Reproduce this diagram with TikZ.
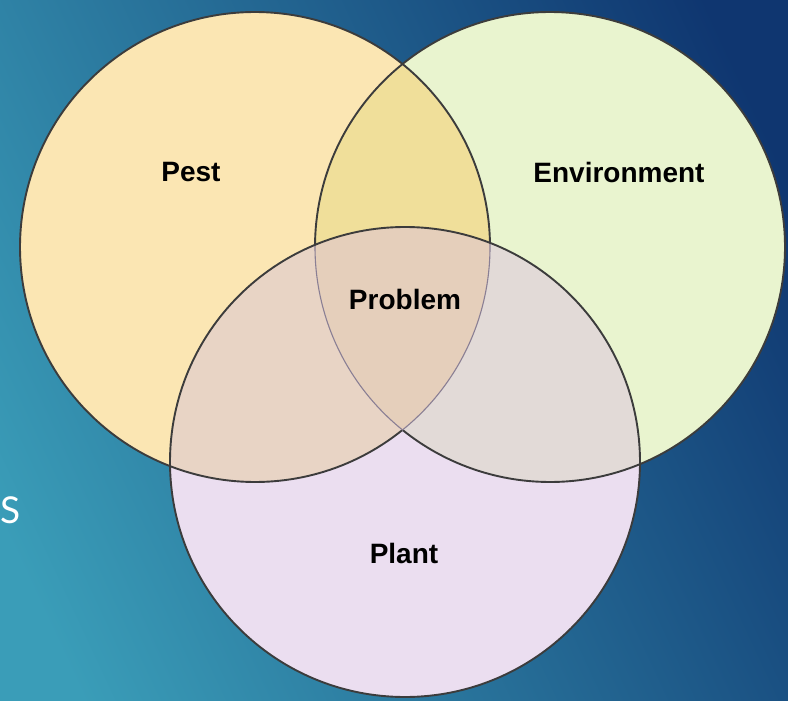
\documentclass[tikz,border=0pt]{standalone}
\usepackage{fontspec}
\newfontfamily\labelfont{Liberation Sans}
\newfontfamily\slidefont{Lato}

\definecolor{bgdark}{HTML}{0F3670}
\definecolor{bgmid}{HTML}{22679A}
\definecolor{bglight}{HTML}{3A9DB8}
\definecolor{pestfill}{HTML}{FBE6B3}
\definecolor{envfill}{HTML}{E9F4CF}
\definecolor{plantfill}{HTML}{EBDEF0}
\definecolor{pefill}{HTML}{F0DF9A}
\definecolor{pplfill}{HTML}{E8D4C5}
\definecolor{eplfill}{HTML}{E2DAD7}
\definecolor{allfill}{HTML}{E5CFBB}
\definecolor{ringdark}{HTML}{3C3C3C}
\definecolor{ringlight}{HTML}{8A7F94}

\begin{document}
\begin{tikzpicture}[x=1pt,y=-1pt,
  ring/.style={draw=ringdark, line width=1.9pt},
  innerring/.style={draw=ringlight, line width=1.1pt},
  setlabel/.style={font=\labelfont\bfseries\fontsize{28}{30}\selectfont, text=black, inner sep=0pt},
  slidetext/.style={font=\slidefont\fontsize{37}{40}\selectfont, text=white, inner sep=0pt}]
\useasboundingbox (0,0) rectangle (788,701);
\begin{scope}
\clip (0,0) rectangle (788,701);
% slide background
\shade[top color=bgdark, middle color=bgmid, bottom color=bglight, shading angle=-65] (-50,-50) rectangle (838,751);
\node[slidetext, anchor=west] (slideS) at (0,510) {S};

% circle centres
\coordinate (cP) at (255,247);
\coordinate (cE) at (550,247);
\coordinate (cL) at (405,462);

% single-set fills
\fill[pestfill] (cP) circle[radius=235];
\fill[envfill] (cE) circle[radius=235];
\fill[plantfill] (cL) circle[radius=235];

% pairwise overlaps
\begin{scope}
  \clip (cP) circle[radius=235];
  \fill[pefill] (cE) circle[radius=235];
  \fill[pplfill] (cL) circle[radius=235];
\end{scope}
\begin{scope}
  \clip (cE) circle[radius=235];
  \fill[eplfill] (cL) circle[radius=235];
\end{scope}
% triple overlap
\begin{scope}
  \clip (cP) circle[radius=235];
  \clip (cE) circle[radius=235];
  \fill[allfill] (cL) circle[radius=235];
\end{scope}

% outlines
\draw[ring] (cP) ++(51.2:235) arc[start angle=51.2, end angle=359, radius=235];
\draw[ring] (cE) ++(180.5:235) arc[start angle=180.5, end angle=488.8, radius=235];
\draw[innerring] (cP) ++(-1:235) arc[start angle=-1, end angle=51.2, radius=235];
\draw[innerring] (cE) ++(128.8:235) arc[start angle=128.8, end angle=180.5, radius=235];
\draw[ring] (cL) circle[radius=235];

% labels
\node[setlabel] (pest) at (191,172) {Pest};
\node[setlabel] (env) at (619,172) {Environment};
\node[setlabel] (problem) at (405,299) {Problem};
\node[setlabel] (plant) at (404,553) {Plant};
\end{scope}
\end{tikzpicture}
\end{document}
